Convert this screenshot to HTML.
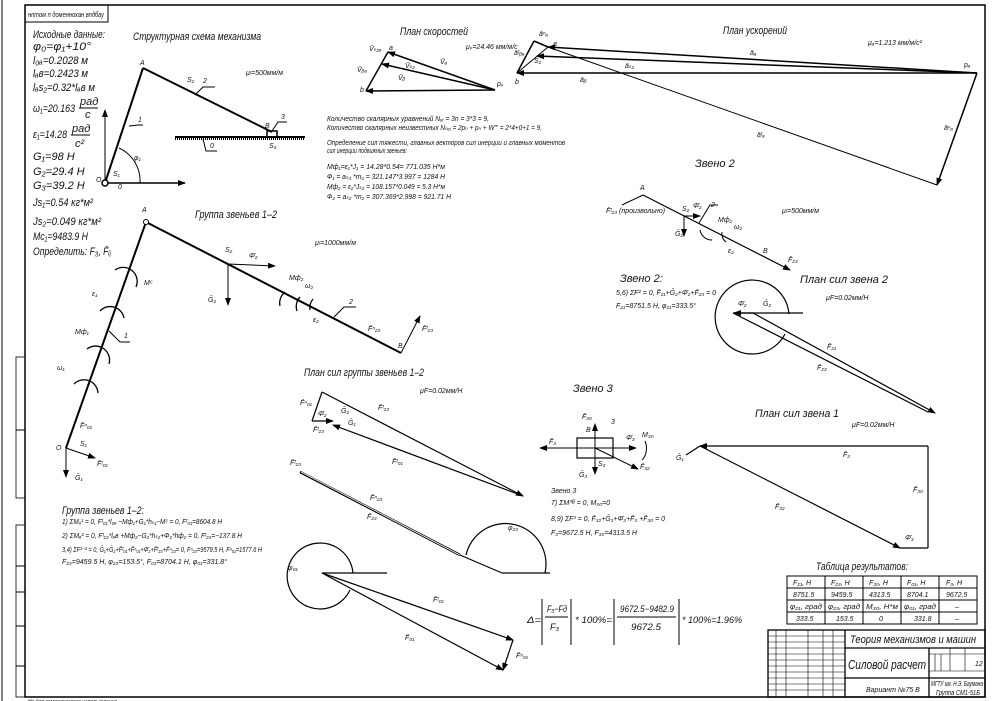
<!DOCTYPE html>
<html><head><meta charset="utf-8"><style>
html,body{margin:0;padding:0;background:#fff;}
svg{display:block;}
text{font-family:"Liberation Sans","DejaVu Sans",sans-serif;font-style:italic;fill:#111;}
.t{font-size:7px;}
.m{font-size:9px;}
.h{font-size:11px;}
.L{font-size:13px;}
</style></head><body>
<svg width="992" height="701" viewBox="0 0 992 701" xmlns="http://www.w3.org/2000/svg">
<defs><marker id="ar" markerWidth="8" markerHeight="6" refX="7" refY="3" orient="auto" markerUnits="userSpaceOnUse"><path d="M0,0 L8,3 L0,6z" fill="#000"/></marker></defs>
<rect x="0" y="0" width="992" height="701" fill="#fff"/>
<!-- frame -->
<rect x="25" y="5" width="960" height="692" fill="none" stroke="#000" stroke-width="1.5"/>
<line x1="2" y1="0" x2="2" y2="701" stroke="#000" stroke-width="1"/>
<rect x="16" y="357" width="9" height="141" fill="none" stroke="#000" stroke-width="0.8"/>
<line x1="16" y1="430" x2="25" y2="430" stroke="#000"/>
<rect x="16" y="525" width="9" height="172" fill="none" stroke="#000" stroke-width="0.8"/>
<line x1="16" y1="566" x2="25" y2="566" stroke="#000"/><line x1="16" y1="592" x2="25" y2="592" stroke="#000"/><line x1="16" y1="626" x2="25" y2="626" stroke="#000"/><line x1="16" y1="666" x2="25" y2="666" stroke="#000"/>
<rect x="25" y="5" width="83" height="17" fill="none" stroke="#000"/>
<text x="28" y="17" class="t" textLength="76" lengthAdjust="spacingAndGlyphs">нnтом п доменнохан впдбау</text>

<!-- initial data -->
<text x="33" y="38" class="h" textLength="72" lengthAdjust="spacingAndGlyphs">Исходные данные:</text>
<text x="33" y="50" class="h" textLength="58" lengthAdjust="spacingAndGlyphs">φ₀=φ₁+10°</text>
<text x="33" y="64" class="h" textLength="55" lengthAdjust="spacingAndGlyphs">l₀ₐ=0.2028 м</text>
<text x="33" y="77" class="h" textLength="55" lengthAdjust="spacingAndGlyphs">lₐв=0.2423 м</text>
<text x="33" y="91" class="h" textLength="62" lengthAdjust="spacingAndGlyphs">lₐs₂=0.32*lₐв м</text>
<text x="33" y="112" class="h" textLength="42" lengthAdjust="spacingAndGlyphs">ω₁=20.163</text><text x="80" y="105" class="h">рад</text><line x1="79" y1="108" x2="98" y2="108" stroke="#000"/><text x="85" y="118" class="h">с</text>
<text x="33" y="138" class="h" textLength="34" lengthAdjust="spacingAndGlyphs">ε₁=14.28</text><text x="72" y="132" class="h">рад</text><line x1="71" y1="135" x2="90" y2="135" stroke="#000"/><text x="75" y="147" class="h">с²</text>
<text x="33" y="160" class="h">G₁=98 Н</text>
<text x="33" y="175" class="h">G₂=29.4 Н</text>
<text x="33" y="189" class="h">G₃=39.2 Н</text>
<text x="33" y="206" class="h" textLength="60" lengthAdjust="spacingAndGlyphs">Js₁=0.54 кг*м²</text>
<text x="33" y="225" class="h" textLength="68" lengthAdjust="spacingAndGlyphs">Js₂=0.049 кг*м²</text>
<text x="33" y="240" class="h" textLength="55" lengthAdjust="spacingAndGlyphs">Mc₁=9483.9 Н</text>
<text x="33" y="255" class="h" textLength="78" lengthAdjust="spacingAndGlyphs">Определить: F₃, F̄ᵢⱼ</text>

<!-- structural scheme -->
<text x="133" y="40" class="h" textLength="128" lengthAdjust="spacingAndGlyphs">Структурная схема механизма</text>
<line x1="105" y1="183" x2="143" y2="68" stroke="#000" stroke-width="2"/>
<line x1="143" y1="68" x2="272" y2="132" stroke="#000" stroke-width="2"/>
<line x1="175" y1="137" x2="305" y2="137" stroke="#000" stroke-width="2"/>
<line x1="175" y1="139" x2="305" y2="139" stroke="#000" stroke-width="2" stroke-dasharray="1,1"/>
<rect x="267" y="131" width="10" height="6" fill="none" stroke="#000" stroke-width="1.5"/>
<line x1="105" y1="183" x2="105" y2="110" stroke="#000" marker-end="url(#ar)"/>
<line x1="105" y1="183" x2="185" y2="183" stroke="#000" stroke-width="1.5" marker-end="url(#ar)"/>
<path d="M119,148 A36,36 0 0 1 140,183" fill="none" stroke="#000"/>
<circle cx="105" cy="183" r="3" fill="#fff" stroke="#000" stroke-width="1.5"/>
<text x="140" y="65" class="t">A</text><text x="187" y="82" class="t">S₂</text><text x="203" y="83" class="t">2</text>
<path d="M195,95 L203,87 L215,87" fill="none" stroke="#000"/>
<path d="M129,126 L138,125 L143,125" fill="none" stroke="#000"/><text x="138" y="122" class="t">1</text>
<text x="265" y="128" class="t">B</text><text x="281" y="119" class="t">3</text><path d="M272,131 L278,122 L287,122" fill="none" stroke="#000"/>
<text x="269" y="148" class="t">S₃</text><path d="M203,139 L206,151 L217,151" fill="none" stroke="#000"/><text x="210" y="148" class="t">0</text>
<text x="96" y="182" class="t">O</text><text x="113" y="176" class="t">S₁</text><text x="118" y="189" class="t">0</text>
<text x="134" y="160" class="t">φ₁</text><text x="246" y="75" class="t">μₗ=500мм/м</text>

<!-- velocity plan -->
<text x="400" y="35" class="h" textLength="68" lengthAdjust="spacingAndGlyphs">План скоростей</text>
<text x="466" y="49" class="t">μᵥ=24.46 мм/м/с</text>
<line x1="495" y1="90" x2="388" y2="52" stroke="#000" stroke-width="1.5" marker-end="url(#ar)"/>
<line x1="495" y1="90" x2="382" y2="64" stroke="#000" stroke-width="1.5" marker-end="url(#ar)"/>
<line x1="495" y1="90" x2="366" y2="91" stroke="#000" stroke-width="1.5" marker-end="url(#ar)"/>
<line x1="388" y1="52" x2="366" y2="91" stroke="#000" stroke-width="1.5"/>
<text x="369" y="51" class="t">V̄ₛ₂ₐ</text><text x="389" y="50" class="t">a</text><text x="357" y="72" class="t">V̄ᵦₐ</text><text x="405" y="68" class="t">V̄ₛ₂</text><text x="440" y="64" class="t">V̄ₐ</text><text x="398" y="80" class="t">V̄ᵦ</text><text x="360" y="92" class="t">b</text><text x="497" y="86" class="t">pᵥ</text>

<!-- acceleration plan -->
<text x="723" y="34" class="h" textLength="64" lengthAdjust="spacingAndGlyphs">План ускорений</text>
<text x="868" y="45" class="t">μₐ=1.213 мм/м/с²</text>
<line x1="977" y1="73" x2="548" y2="47" stroke="#000" stroke-width="1.5" marker-end="url(#ar)"/>
<line x1="977" y1="73" x2="537" y2="56" stroke="#000" stroke-width="1.5" marker-end="url(#ar)"/>
<line x1="977" y1="73" x2="517" y2="73" stroke="#000" stroke-width="1.5" marker-end="url(#ar)"/>
<line x1="977" y1="73" x2="937" y2="185" stroke="#000" stroke-width="1.5" marker-end="url(#ar)"/>
<line x1="937" y1="185" x2="548" y2="47" stroke="#000" stroke-width="1"/>
<line x1="517" y1="73" x2="534" y2="41" stroke="#000" stroke-width="1.5"/><line x1="534" y1="41" x2="548" y2="47" stroke="#000" stroke-width="1.5"/>
<line x1="517" y1="73" x2="548" y2="47" stroke="#000"/>
<text x="539" y="36" class="t">āⁿₐ</text><text x="514" y="55" class="t">āᵗᵦₐ</text><text x="553" y="46" class="t">a</text><text x="534" y="63" class="t">S₂</text><text x="515" y="84" class="t">b</text>
<text x="750" y="55" class="t">āₐ</text><text x="625" y="68" class="t">āₛ₂</text><text x="580" y="82" class="t">āᵦ</text><text x="757" y="137" class="t">āᵗₐ</text><text x="944" y="130" class="t">āⁿₐ</text><text x="964" y="67" class="t">pₐ</text>

<!-- text middle -->
<g class="t">
<text x="327" y="121" textLength="162" lengthAdjust="spacingAndGlyphs">Количество скалярных уравнений Nᵤᵣ = 3n = 3*3 = 9,</text>
<text x="327" y="130" textLength="215" lengthAdjust="spacingAndGlyphs">Количество скалярных неизвестных Nₙₑᵢ = 2pₙ + pₙ + W''' = 2*4+0+1 = 9,</text>
<text x="327" y="145" textLength="238" lengthAdjust="spacingAndGlyphs">Определение сил тяжести, главных векторов сил инерции и главных моментов</text>
<text x="327" y="153" textLength="80" lengthAdjust="spacingAndGlyphs">сил инерции подвижных звеньев:</text>
<text x="327" y="169" textLength="118" lengthAdjust="spacingAndGlyphs">Mф₁=ε₁*J₁ = 14.28*0.54= 771.035 Н*м</text>
<text x="327" y="179" textLength="118" lengthAdjust="spacingAndGlyphs">Ф₁ = aₛ₃ *m₃ = 321.147*3.997 = 1284 Н</text>
<text x="327" y="189" textLength="118" lengthAdjust="spacingAndGlyphs">Mф₂ = ε₂*Jₛ₂ = 108.157*0.049 = 5.3 Н*м</text>
<text x="327" y="199" textLength="124" lengthAdjust="spacingAndGlyphs">Ф₂ = aₛ₂ *m₂ = 307.369*2.998 = 921.71 Н</text>
</g>

<!-- group 1-2 -->
<text x="195" y="218" class="h" textLength="82" lengthAdjust="spacingAndGlyphs">Группа звеньев 1–2</text>
<text x="142" y="212" class="t">A</text>
<line x1="66" y1="448" x2="146" y2="222" stroke="#000" stroke-width="2"/>
<line x1="146" y1="222" x2="401" y2="353" stroke="#000" stroke-width="2"/>
<circle cx="146" cy="222" r="2.5" fill="#fff" stroke="#000"/>
<line x1="228" y1="264" x2="275" y2="266" stroke="#000" marker-end="url(#ar)"/>
<line x1="228" y1="264" x2="228" y2="305" stroke="#000" marker-end="url(#ar)"/>
<line x1="401" y1="353" x2="420" y2="316" stroke="#000" marker-end="url(#ar)"/>
<line x1="66" y1="448" x2="66" y2="477" stroke="#000" marker-end="url(#ar)"/>
<line x1="66" y1="448" x2="95" y2="458" stroke="#000" marker-end="url(#ar)"/>
<g fill="none" stroke="#000" stroke-width="1.3">
<path d="M115,270 A14,14 0 0 1 136,287"/><path d="M100,311 A14,14 0 0 1 124,318"/><path d="M87,349 A14,14 0 0 1 109,364"/><path d="M74,384 A14,14 0 0 1 98,393"/>
<path d="M285,292 A14,14 0 0 0 280,306"/><path d="M300,297 A14,14 0 0 0 297,311"/><path d="M313,299 A14,14 0 0 0 310,310"/>
</g>
<path d="M109,331 L120,342 L130,342" fill="none" stroke="#000"/><text x="124" y="338" class="t">1</text>
<path d="M334,317 L344,307 L356,307" fill="none" stroke="#000"/><text x="349" y="304" class="t">2</text>
<text x="144" y="285" class="t">Mᶜ</text><text x="92" y="296" class="t">ε₁</text><text x="75" y="334" class="t">Mф₁</text><text x="57" y="370" class="t">ω₁</text>
<text x="225" y="252" class="t">S₂</text><text x="249" y="258" class="t">Φ̄₂</text><text x="208" y="302" class="t">Ḡ₂</text>
<text x="289" y="280" class="t">Mф₂</text><text x="305" y="288" class="t">ω₂</text><text x="313" y="322" class="t">ε₂</text>
<text x="368" y="331" class="t">F̄ⁿ₂₃</text><text x="422" y="331" class="t">F̄ᵗ₂₃</text><text x="398" y="348" class="t">B</text>
<text x="80" y="428" class="t">F̄ⁿ₀₁</text><text x="56" y="450" class="t">O</text><text x="80" y="446" class="t">S₁</text><text x="97" y="466" class="t">F̄ᵗ₀₁</text><text x="75" y="480" class="t">Ḡ₁</text>
<text x="315" y="245" class="t">μₗ=1000мм/м</text>

<!-- force plan group -->
<text x="304" y="376" class="h" textLength="120" lengthAdjust="spacingAndGlyphs">План сил группы звеньев 1–2</text>
<text x="420" y="393" class="t">μF=0.02мм/Н</text>
<g stroke="#000" stroke-width="1.2" fill="none">
<line x1="322" y1="392" x2="523" y2="496" marker-end="url(#ar)"/>
<line x1="523" y1="496" x2="333" y2="425" marker-end="url(#ar)"/>
<line x1="322" y1="392" x2="312" y2="421"/>
<line x1="312" y1="421" x2="333" y2="421" marker-end="url(#ar)"/>
<line x1="300" y1="472" x2="460" y2="555" stroke-width="2.5"/>
<line x1="301" y1="472" x2="460" y2="555" stroke="#fff" stroke-width="0.8"/>
<line x1="460" y1="555" x2="502" y2="573"/>
<path d="M466,555 A40,40 0 0 1 545,573"/>
<line x1="502" y1="573" x2="550" y2="573"/>
<path d="M353,573 A33,33 0 1 0 350,590"/>
<line x1="322" y1="573" x2="387" y2="573"/>
<line x1="322" y1="573" x2="513" y2="640" marker-end="url(#ar)"/>
<line x1="322" y1="573" x2="503" y2="670" marker-end="url(#ar)"/>
<line x1="513" y1="640" x2="503" y2="670" marker-end="url(#ar)"/>
</g>
<g class="t"><text x="300" y="405">F̄ⁿ₀₁</text><text x="318" y="416">Φ̄₂</text><text x="341" y="413">Ḡ₂</text><text x="348" y="425">Ḡ₁</text><text x="313" y="432">F̄ᵗ₂₃</text><text x="378" y="410">F̄ᵗ₂₃</text><text x="392" y="464">F̄ᵗ₀₁</text><text x="290" y="465">F̄ᵗ₂₃</text><text x="370" y="500">F̄ⁿ₂₃</text><text x="367" y="519">F̄₂₃</text><text x="508" y="530">φ₂₃</text><text x="433" y="602">F̄ᵗ₀₁</text><text x="405" y="640">F̄₀₁</text><text x="516" y="658">F̄ⁿ₀₁</text><text x="288" y="570">φ₀₁</text></g>

<!-- group eq -->
<text x="62" y="514" class="h" textLength="82" lengthAdjust="spacingAndGlyphs">Группа звеньев 1–2:</text>
<g class="t">
<text x="62" y="524" textLength="160" lengthAdjust="spacingAndGlyphs">1) ΣMₐ¹ = 0,  Fᵗ₀₁*l₀ₐ −Mф₁+G₁*hₛ₁−Mᶜ = 0,  Fᵗ₀₁=8604.8 Н</text>
<text x="62" y="538" textLength="180" lengthAdjust="spacingAndGlyphs">2) ΣMₐ² = 0,  Fᵗ₂₃*lₐв +Mф₂−G₂*hₛ₂+Φ₂*hф₂ = 0,  Fᵗ₂₃=−137.8 Н</text>
<text x="62" y="552" textLength="200" lengthAdjust="spacingAndGlyphs">3,4) ΣF¹⁻² = 0,  Ḡ₁+Ḡ₂+F̄ᵗ₀₁+F̄ⁿ₀₁+Φ̄₂+F̄ᵗ₂₃+F̄ⁿ₂₃= 0,  Fⁿ₂₃=9579.5 Н,  Fⁿ₀₁=1577.6 Н</text>
<text x="62" y="564" textLength="165" lengthAdjust="spacingAndGlyphs">F₂₃=9459.5 Н,  φ₂₃=153.5°,  F₀₁=8704.1 Н,  φ₀₁=331.8°</text>
</g>

<!-- zveno 2 -->
<text x="695" y="167" class="h">Звено 2</text>
<text x="640" y="190" class="t">A</text>
<line x1="643" y1="195" x2="790" y2="270" stroke="#000" stroke-width="1.2" marker-end="url(#ar)"/>
<line x1="643" y1="195" x2="622" y2="205" stroke="#000"/>
<line x1="684" y1="216" x2="700" y2="216" stroke="#000" marker-end="url(#ar)"/>
<line x1="684" y1="216" x2="684" y2="236" stroke="#000" marker-end="url(#ar)"/>
<path d="M700,230 A12,12 0 0 0 712,240" fill="none" stroke="#000"/><path d="M722,232 A10,10 0 0 0 726,242" fill="none" stroke="#000"/>
<g class="t"><text x="606" y="213">F̄ᵗ₂₃ (произвольно)</text><text x="682" y="211">S₂</text><text x="693" y="208">Φ̄₂</text><text x="711" y="207">2</text><text x="675" y="236">Ḡ₂</text><text x="718" y="222">Mф₂</text><text x="734" y="229">ω₂</text><text x="728" y="253">ε₂</text><text x="763" y="253">B</text><text x="788" y="262">F̄₂₃</text><text x="782" y="213">μₗ=500мм/м</text></g>
<path d="M699,223 L710,205 L718,205" fill="none" stroke="#000"/>

<text x="620" y="282" class="h">Звено 2:</text>
<g class="t"><text x="616" y="295" textLength="100" lengthAdjust="spacingAndGlyphs">5,6) ΣF² = 0,   F̄₂₁+Ḡ₂+Φ̄₂+F̄₂₃ = 0</text><text x="616" y="308" textLength="80" lengthAdjust="spacingAndGlyphs">F₂₁=8751.5 Н,  φ₂₁=333.5°</text></g>
<text x="800" y="283" class="h" textLength="88" lengthAdjust="spacingAndGlyphs">План сил звена 2</text>
<text x="826" y="300" class="t">μF=0.02мм/Н</text>
<g stroke="#000" fill="none" stroke-width="1.2">
<path d="M789,314 A37,37 0 1 0 785,334"/>
<line x1="733" y1="313" x2="803" y2="313"/>
<line x1="753" y1="313" x2="935" y2="413" marker-end="url(#ar)"/>
<line x1="733" y1="313" x2="928" y2="412"/>
<line x1="753" y1="313" x2="734" y2="313" marker-end="url(#ar)"/>
</g>
<g class="t"><text x="738" y="306">Φ̄₂</text><text x="763" y="306">Ḡ₂</text><text x="827" y="349">F̄₂₁</text><text x="817" y="370">F̄₂₃</text></g>

<!-- zveno 3 -->
<text x="573" y="392" class="h">Звено 3</text>
<rect x="577" y="438" width="36" height="20" fill="none" stroke="#000" stroke-width="1.2"/>
<line x1="595" y1="448" x2="540" y2="448" stroke="#000" marker-end="url(#ar)"/>
<line x1="595" y1="448" x2="636" y2="448" stroke="#000" marker-end="url(#ar)"/>
<line x1="595" y1="448" x2="595" y2="424" stroke="#000" marker-end="url(#ar)"/>
<line x1="595" y1="448" x2="595" y2="474" stroke="#000" marker-end="url(#ar)"/>
<line x1="595" y1="448" x2="638" y2="469" stroke="#000" marker-end="url(#ar)"/>
<path d="M645,441 A10,14 0 0 1 642,460" fill="none" stroke="#000"/>
<g class="t"><text x="582" y="419">F̄₃₀</text><text x="586" y="432">B</text><text x="611" y="424">3</text><text x="626" y="440">Φ̄₃</text><text x="642" y="437">M₃₀</text><text x="598" y="466">S₃</text><text x="579" y="477">Ḡ₃</text><text x="640" y="469">F̄₃₂</text><text x="549" y="444">F̄₃</text></g>
<g class="t"><text x="551" y="493">Звено 3</text><text x="551" y="505">7) ΣM³ᴮ = 0,  M₃₀=0</text><text x="551" y="521" textLength="114" lengthAdjust="spacingAndGlyphs">8,9) ΣF³ = 0,   F̄₃₂+Ḡ₃+Φ̄₃+F̄₃ +F̄₃₀ = 0</text><text x="551" y="535" textLength="86" lengthAdjust="spacingAndGlyphs">F₃=9672.5 Н,  F₃₀=4313.5 Н</text></g>

<!-- plan zveno 1 -->
<text x="755" y="417" class="h" textLength="84" lengthAdjust="spacingAndGlyphs">План сил звена 1</text>
<text x="852" y="427" class="t">μF=0.02мм/Н</text>
<g stroke="#000" fill="none" stroke-width="1.2">
<line x1="928" y1="446" x2="700" y2="446" marker-end="url(#ar)"/>
<line x1="928" y1="548" x2="928" y2="446"/>
<line x1="700" y1="446" x2="900" y2="548" marker-end="url(#ar)"/>
<line x1="900" y1="548" x2="928" y2="548"/>
<line x1="700" y1="446" x2="686" y2="455"/>
</g>
<g class="t"><text x="676" y="460">Ḡ₁</text><text x="843" y="457">F̄₃</text><text x="913" y="492">F̄₃₀</text><text x="775" y="509">F̄₃₂</text><text x="905" y="540">Φ̄₃</text></g>

<!-- delta formula -->
<g class="m" stroke="#000">
<line x1="542" y1="599" x2="542" y2="645"/><line x1="571" y1="599" x2="571" y2="645"/>
<line x1="545" y1="617" x2="568" y2="617"/>
<line x1="614" y1="599" x2="614" y2="645"/><line x1="679" y1="599" x2="679" y2="645"/>
<line x1="617" y1="617" x2="676" y2="617"/>
</g>
<g class="m">
<text x="527" y="623" textLength="14" lengthAdjust="spacingAndGlyphs">Δ=</text>
<text x="547" y="612" textLength="20" lengthAdjust="spacingAndGlyphs">F₃−Fд</text>
<text x="550" y="630">F₃</text>
<text x="575" y="623" textLength="37" lengthAdjust="spacingAndGlyphs">* 100%=</text>
<text x="620" y="612" textLength="54" lengthAdjust="spacingAndGlyphs">9672.5−9482.9</text>
<text x="631" y="630" textLength="30" lengthAdjust="spacingAndGlyphs">9672.5</text>
<text x="682" y="623" textLength="60" lengthAdjust="spacingAndGlyphs">* 100%=1.96%</text>
</g>

<!-- results table -->
<text x="816" y="570" class="h" textLength="92" lengthAdjust="spacingAndGlyphs">Таблица результатов:</text>
<g stroke="#000" stroke-width="1" fill="none">
<rect x="787" y="576" width="190" height="48"/>
<line x1="787" y1="588" x2="977" y2="588"/><line x1="787" y1="600" x2="977" y2="600"/><line x1="787" y1="612" x2="977" y2="612"/>
<line x1="825" y1="576" x2="825" y2="624"/><line x1="863" y1="576" x2="863" y2="624"/><line x1="901" y1="576" x2="901" y2="624"/><line x1="939" y1="576" x2="939" y2="624"/>
</g>
<g class="t"><text x="793" y="585">F₂₁, Н</text><text x="831" y="585">F₂₃, Н</text><text x="869" y="585">F₃₀, Н</text><text x="907" y="585">F₀₁, Н</text><text x="946" y="585">F₃, Н</text>
<text x="793" y="597">8751.5</text><text x="831" y="597">9459.5</text><text x="869" y="597">4313.5</text><text x="907" y="597">8704.1</text><text x="946" y="597">9672.5</text>
<text x="790" y="609" textLength="32" lengthAdjust="spacingAndGlyphs">φ₂₁, град</text><text x="828" y="609" textLength="32" lengthAdjust="spacingAndGlyphs">φ₂₃, град</text><text x="866" y="609" textLength="32" lengthAdjust="spacingAndGlyphs">M₃₀, Н*м</text><text x="904" y="609" textLength="32" lengthAdjust="spacingAndGlyphs">φ₀₁, град</text><text x="955" y="609">–</text>
<text x="796" y="621">333.5</text><text x="836" y="621">153.5</text><text x="879" y="621">0</text><text x="914" y="621">331.8</text><text x="955" y="621">–</text></g>

<!-- title block -->
<g stroke="#000" stroke-width="1.3" fill="none">
<rect x="768" y="630" width="217" height="67"/>
<line x1="845" y1="630" x2="845" y2="697"/>
<line x1="845" y1="648" x2="985" y2="648"/>
<line x1="845" y1="678" x2="985" y2="678"/>
<line x1="929" y1="648" x2="929" y2="697"/>
<line x1="929" y1="654" x2="985" y2="654" stroke-width="0.6"/>
<line x1="929" y1="671" x2="985" y2="671" stroke-width="0.6"/>
<line x1="950" y1="648" x2="950" y2="671" stroke-width="0.6"/>
<line x1="965" y1="648" x2="965" y2="671" stroke-width="0.6"/>
<line x1="935" y1="654" x2="935" y2="671" stroke-width="0.6"/><line x1="941" y1="654" x2="941" y2="671" stroke-width="0.6"/>
<line x1="776" y1="630" x2="776" y2="697" stroke-width="0.6"/><line x1="786" y1="630" x2="786" y2="697" stroke-width="0.6"/><line x1="808" y1="630" x2="808" y2="697" stroke-width="0.6"/><line x1="823" y1="630" x2="823" y2="697" stroke-width="0.6"/><line x1="833" y1="630" x2="833" y2="697" stroke-width="0.6"/>
<line x1="768" y1="636" x2="845" y2="636" stroke-width="0.6"/><line x1="768" y1="642" x2="845" y2="642" stroke-width="0.6"/><line x1="768" y1="648" x2="845" y2="648" stroke-width="0.6"/><line x1="768" y1="654" x2="845" y2="654" stroke-width="0.6"/><line x1="768" y1="660" x2="845" y2="660" stroke-width="0.6"/><line x1="768" y1="666" x2="845" y2="666" stroke-width="0.6"/><line x1="768" y1="672" x2="845" y2="672" stroke-width="0.6"/><line x1="768" y1="678" x2="845" y2="678" stroke-width="0.6"/><line x1="768" y1="684" x2="845" y2="684" stroke-width="0.6"/><line x1="768" y1="690" x2="845" y2="690" stroke-width="0.6"/>
</g>
<text x="850" y="643" class="h" textLength="126" lengthAdjust="spacingAndGlyphs">Теория механизмов и машин</text>
<text x="848" y="669" class="L" textLength="78" lengthAdjust="spacingAndGlyphs">Силовой расчет</text>
<text x="866" y="692" class="t">Вариант №75 В</text>
<text x="975" y="666" class="t">12</text>
<text x="931" y="686" class="t" textLength="52" lengthAdjust="spacingAndGlyphs">МГТУ им. Н.Э. Баумана</text>
<text x="936" y="695" class="t" textLength="44" lengthAdjust="spacingAndGlyphs">Группа СМ1-51Б</text>
<text x="28" y="703" class="t" style="font-size:5px">Не для коммерческого использования</text>
</svg>
</body></html>
